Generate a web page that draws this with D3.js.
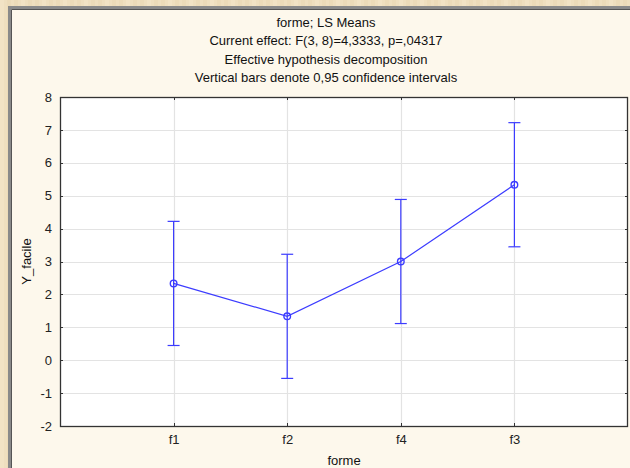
<!DOCTYPE html>
<html>
<head>
<meta charset="utf-8">
<script src="https://cdn.jsdelivr.net/npm/d3@7"></script>
<style>
  body { margin: 0; background: #efdfbf; }
  svg { display: block; font-family: "Liberation Sans", Arial, sans-serif; }
</style>
</head>
<body>
<div id="chart"></div>
<script>
// data
const categories = ['f1', 'f2', 'f4', 'f3'];
const means = [2.333, 1.333, 3.0, 5.333];
const lower = [0.447, -0.553, 1.114, 3.447];
const upper = [4.220, 3.220, 4.886, 7.220];
const yTicks = [-2, -1, 0, 1, 2, 3, 4, 5, 6, 7, 8];
const titleLines = [
    'forme; LS Means',
    'Current effect: F(3, 8)=4,3333, p=,04317',
    'Effective hypothesis decomposition',
    'Vertical bars denote 0,95 confidence intervals'
];

const width = 630, height = 468;
const plot = { left: 60, top: 97, right: 628, bottom: 426 };
const blue = '#3c3cff';

let svg = d3.select('#chart').append('svg')
    .attr('width', width)
    .attr('height', height);

// textured outer background
let stripes = d3.range(0, width, 7);
svg.append('g').selectAll('rect')
    .data(stripes)
    .join('rect')
    .attr('x', d => d)
    .attr('y', 0)
    .attr('width', 4)
    .attr('height', height)
    .attr('fill', (d, i) => i % 3 === 0 ? '#f3e6c9' : '#ead9b6')
    .attr('opacity', 0.6);

// panel
svg.append('rect')
    .attr('x', 9.5).attr('y', 7.5)
    .attr('width', width).attr('height', height)
    .attr('fill', '#fdf8ec')
    .attr('stroke', '#8a8a8a')
    .attr('stroke-width', 3);
svg.append('path')
    .attr('d', 'M11.5,' + height + 'V9.5H' + width)
    .attr('fill', 'none')
    .attr('stroke', '#555')
    .attr('stroke-width', 1);

// scales
let x = d3.scaleLinear().domain([0, categories.length + 1]).range([plot.left, plot.right]);
let y = d3.scaleLinear().domain([-2, 8]).range([plot.bottom, plot.top]);
let xPos = (d, i) => x(i + 1);

// plot area
svg.append('rect')
    .attr('x', plot.left).attr('y', plot.top)
    .attr('width', plot.right - plot.left)
    .attr('height', plot.bottom - plot.top)
    .attr('fill', '#fff');

// grid
let grid = svg.append('g').attr('stroke', '#e3e3e3').attr('stroke-width', 1.2);
grid.selectAll('.hg')
    .data(yTicks.slice(1, -1))
    .join('line')
    .attr('x1', plot.left).attr('x2', plot.right)
    .attr('y1', d => Math.round(y(d)) + 0.5).attr('y2', d => Math.round(y(d)) + 0.5);
grid.selectAll('.vg')
    .data(categories)
    .join('line')
    .attr('x1', (d, i) => Math.round(xPos(d, i)) + 0.5)
    .attr('x2', (d, i) => Math.round(xPos(d, i)) + 0.5)
    .attr('y1', plot.top).attr('y2', plot.bottom);

// axes with inward ticks
let axisLeft = d3.axisLeft(y).tickValues(yTicks).tickFormat(d => String(d)).tickSize(0).tickPadding(8);
let gy = svg.append('g')
    .attr('transform', 'translate(' + plot.left + ',0)')
    .call(axisLeft);
gy.select('.domain').remove();
gy.selectAll('text').attr('font-size', 13).attr('fill', '#222')
    .style('font-family', '"Liberation Sans", Arial, sans-serif');

let axisBottom = d3.axisBottom(x)
    .tickValues(d3.range(1, categories.length + 1))
    .tickFormat(d => categories[d - 1])
    .tickSize(0).tickPadding(9);
let gx = svg.append('g')
    .attr('transform', 'translate(0,' + plot.bottom + ')')
    .call(axisBottom);
gx.select('.domain').remove();
gx.selectAll('text').attr('font-size', 13).attr('fill', '#222')
    .style('font-family', '"Liberation Sans", Arial, sans-serif');

let ticks = svg.append('g').attr('stroke', '#333').attr('stroke-width', 1);
yTicks.forEach(function (d) {
    let yy = Math.round(y(d)) + 0.5;
    ticks.append('line').attr('x1', plot.left).attr('x2', plot.left + 3).attr('y1', yy).attr('y2', yy);
    ticks.append('line').attr('x1', plot.right - 3).attr('x2', plot.right).attr('y1', yy).attr('y2', yy);
});
categories.forEach(function (d, i) {
    let xx = Math.round(xPos(d, i)) + 0.5;
    ticks.append('line').attr('x1', xx).attr('x2', xx).attr('y1', plot.bottom).attr('y2', plot.bottom - 3);
    ticks.append('line').attr('x1', xx).attr('x2', xx).attr('y1', plot.top).attr('y2', plot.top + 3);
});

// frame
svg.append('rect')
    .attr('x', plot.left + 0.5).attr('y', plot.top + 0.5)
    .attr('width', plot.right - plot.left - 1)
    .attr('height', plot.bottom - plot.top)
    .attr('fill', 'none')
    .attr('stroke', '#333')
    .attr('stroke-width', 1.3);

// error bars
let bars = svg.append('g').attr('stroke', blue).attr('stroke-width', 1.2);
bars.selectAll('.bar')
    .data(categories)
    .join('line')
    .attr('x1', xPos).attr('x2', xPos)
    .attr('y1', (d, i) => y(upper[i])).attr('y2', (d, i) => y(lower[i]));
bars.selectAll('.capTop')
    .data(categories)
    .join('line')
    .attr('x1', (d, i) => xPos(d, i) - 6).attr('x2', (d, i) => xPos(d, i) + 6)
    .attr('y1', (d, i) => y(upper[i])).attr('y2', (d, i) => y(upper[i]));
bars.selectAll('.capBottom')
    .data(categories)
    .join('line')
    .attr('x1', (d, i) => xPos(d, i) - 6).attr('x2', (d, i) => xPos(d, i) + 6)
    .attr('y1', (d, i) => y(lower[i])).attr('y2', (d, i) => y(lower[i]));

// means line
let line = d3.line()
    .x((d, i) => x(i + 1))
    .y(d => y(d));
svg.append('path')
    .datum(means)
    .attr('d', line)
    .attr('fill', 'none')
    .attr('stroke', blue)
    .attr('stroke-width', 1.2);

svg.append('g').selectAll('circle')
    .data(means)
    .join('circle')
    .attr('cx', (d, i) => x(i + 1))
    .attr('cy', d => y(d))
    .attr('r', 3.3)
    .attr('fill', '#fff')
    .attr('fill-opacity', 0)
    .attr('stroke', blue)
    .attr('stroke-width', 1.4);

// titles
svg.append('g').selectAll('text')
    .data(titleLines)
    .join('text')
    .attr('x', 326)
    .attr('y', (d, i) => 27 + i * 18.3)
    .attr('text-anchor', 'middle')
    .attr('font-size', 13)
    .attr('fill', '#111')
    .text(d => d);

// axis labels
svg.append('text')
    .attr('x', (plot.left + plot.right) / 2)
    .attr('y', 465)
    .attr('text-anchor', 'middle')
    .attr('font-size', 13)
    .attr('fill', '#111')
    .text('forme');

svg.append('text')
    .attr('transform', 'translate(31,' + (plot.top + plot.bottom) / 2 + ') rotate(-90)')
    .attr('text-anchor', 'middle')
    .attr('font-size', 13)
    .attr('fill', '#111')
    .text('Y_facile');
</script>
</body>
</html>
